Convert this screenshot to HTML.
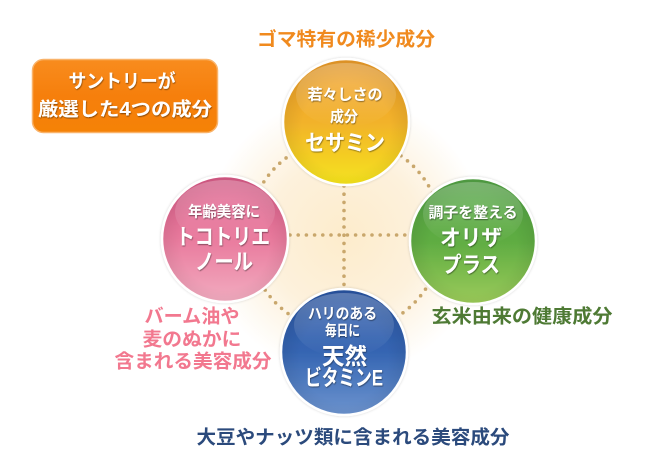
<!DOCTYPE html>
<html><head><meta charset="utf-8"><style>
html,body{margin:0;padding:0;background:#fff;}
svg{display:block;}
text{font-family:"Liberation Sans","Noto Sans CJK JP",sans-serif;font-weight:bold;dominant-baseline:central;text-anchor:middle;}
</style></head><body>
<svg width="656" height="475" viewBox="0 0 656 475" xmlns="http://www.w3.org/2000/svg">
<defs>
<radialGradient id="glow" cx="345" cy="236" r="140" gradientUnits="userSpaceOnUse">
<stop offset="0" stop-color="#fdeccc"/><stop offset="0.55" stop-color="#fdf1dc"/><stop offset="1" stop-color="#ffffff"/>
</radialGradient>
<linearGradient id="gOr" x1="0" y1="0" x2="0" y2="1">
<stop offset="0" stop-color="#f09e2c"/><stop offset="0.5" stop-color="#f2b22a"/><stop offset="1" stop-color="#f5e41e"/>
</linearGradient>
<linearGradient id="gPk" x1="0" y1="0" x2="0" y2="1">
<stop offset="0" stop-color="#de5c8a"/><stop offset="0.5" stop-color="#e97a9d"/><stop offset="1" stop-color="#f2acc0"/>
</linearGradient>
<linearGradient id="gGr" x1="0" y1="0" x2="0" y2="1">
<stop offset="0" stop-color="#54a646"/><stop offset="0.5" stop-color="#5eac42"/><stop offset="1" stop-color="#9ccb5a"/>
</linearGradient>
<linearGradient id="gBl" x1="0" y1="0" x2="0" y2="1">
<stop offset="0" stop-color="#2a56a6"/><stop offset="0.5" stop-color="#3565b2"/><stop offset="1" stop-color="#6d94cf"/>
</linearGradient>
<radialGradient id="shade" cx="0.5" cy="0.55" r="0.55">
<stop offset="0.65" stop-color="#000" stop-opacity="0"/><stop offset="1" stop-color="#000" stop-opacity="0.09"/>
</radialGradient>
<linearGradient id="hl" x1="0" y1="0" x2="0" y2="1">
<stop offset="0" stop-color="#fff" stop-opacity="0.25"/><stop offset="1" stop-color="#fff" stop-opacity="0"/>
</linearGradient>
<linearGradient id="box" x1="0" y1="0" x2="0" y2="1">
<stop offset="0" stop-color="#f88c1e"/><stop offset="0.5" stop-color="#f67f0c"/><stop offset="1" stop-color="#f58206"/>
</linearGradient>
<filter id="ts" x="-10%" y="-30%" width="120%" height="160%">
<feDropShadow dx="0.6" dy="1" stdDeviation="0.6" flood-color="#000" flood-opacity="0.45"/>
</filter>
<filter id="cs" x="-10%" y="-10%" width="120%" height="120%">
<feDropShadow dx="0" dy="0" stdDeviation="1.2" flood-color="#000" flood-opacity="0.18"/>
</filter>
</defs>

<circle cx="345" cy="236" r="140" fill="url(#glow)"/>

<!-- dotted ring -->
<circle cx="345" cy="235" r="97" fill="none" stroke="#c9a76c" stroke-width="3.6" stroke-linecap="round" stroke-dasharray="0 8.2"/>
<!-- cross dotted lines -->
<line x1="290" y1="235" x2="408" y2="235" stroke="#c9a76c" stroke-width="3.6" stroke-linecap="round" stroke-dasharray="0 8.2"/>
<line x1="344" y1="186" x2="344" y2="290" stroke="#c9a76c" stroke-width="3.6" stroke-linecap="round" stroke-dasharray="0 8.2"/>

<!-- orange box -->
<rect x="32.5" y="59.5" width="185" height="73" rx="11" fill="url(#box)" stroke="#f9b36a" stroke-width="1.5"/>
<text x="122" y="82" font-size="19" fill="#fff" textLength="107" lengthAdjust="spacingAndGlyphs" filter="url(#ts)">サントリーが</text>
<text x="125" y="110" font-size="19" fill="#fff" textLength="174" lengthAdjust="spacingAndGlyphs" filter="url(#ts)">厳選した4つの成分</text>

<!-- title -->
<text x="346" y="40" font-size="19" fill="#f08a1e" textLength="178" lengthAdjust="spacingAndGlyphs">ゴマ特有の稀少成分</text>

<!-- circles -->
<g filter="url(#cs)">
<circle cx="346" cy="122" r="63" fill="url(#gOr)" stroke="#fff" stroke-width="2.5"/>
<circle cx="225" cy="239" r="63" fill="url(#gPk)" stroke="#fff" stroke-width="2.5"/>
<circle cx="473" cy="241" r="63" fill="url(#gGr)" stroke="#fff" stroke-width="2.5"/>
<circle cx="344" cy="352" r="63" fill="url(#gBl)" stroke="#fff" stroke-width="2.5"/>
</g>
<circle cx="346" cy="122" r="61.5" fill="url(#shade)"/>
<circle cx="225" cy="239" r="61.5" fill="url(#shade)"/>
<circle cx="473" cy="241" r="61.5" fill="url(#shade)"/>
<circle cx="344" cy="352" r="61.5" fill="url(#shade)"/>
<ellipse cx="346" cy="95" rx="50" ry="32" fill="url(#hl)"/>
<ellipse cx="225" cy="212" rx="50" ry="32" fill="url(#hl)"/>
<ellipse cx="473" cy="214" rx="50" ry="32" fill="url(#hl)"/>
<ellipse cx="344" cy="325" rx="50" ry="32" fill="url(#hl)"/>

<!-- circle texts -->
<g fill="#fff" filter="url(#ts)">
<text x="345" y="95" font-size="15" textLength="75" lengthAdjust="spacingAndGlyphs">若々しさの</text>
<text x="344" y="117" font-size="15" textLength="28" lengthAdjust="spacingAndGlyphs">成分</text>
<text x="345" y="143" font-size="22" textLength="80" lengthAdjust="spacingAndGlyphs">セサミン</text>

<text x="224" y="212" font-size="15" textLength="72" lengthAdjust="spacingAndGlyphs">年齢美容に</text>
<text x="223" y="237" font-size="22" textLength="94" lengthAdjust="spacingAndGlyphs">トコトリエ</text>
<text x="224" y="262" font-size="22" textLength="58" lengthAdjust="spacingAndGlyphs">ノール</text>

<text x="473" y="213" font-size="15" textLength="89" lengthAdjust="spacingAndGlyphs">調子を整える</text>
<text x="471" y="238" font-size="22" textLength="62" lengthAdjust="spacingAndGlyphs">オリザ</text>
<text x="471" y="265" font-size="22" textLength="58" lengthAdjust="spacingAndGlyphs">プラス</text>

<text x="342.5" y="314" font-size="15" textLength="69" lengthAdjust="spacingAndGlyphs">ハリのある</text>
<text x="342.5" y="331" font-size="15" textLength="35" lengthAdjust="spacingAndGlyphs">毎日に</text>
<text x="344.5" y="356" font-size="23" textLength="45" lengthAdjust="spacingAndGlyphs">天然</text>
<text x="344" y="378" font-size="22" textLength="78" lengthAdjust="spacingAndGlyphs">ビタミンE</text>
</g>

<!-- side labels -->
<g fill="#f2788f">
<text x="192" y="317" font-size="19" textLength="95" lengthAdjust="spacingAndGlyphs">バーム油や</text>
<text x="192" y="340" font-size="19" textLength="99" lengthAdjust="spacingAndGlyphs">麦のぬかに</text>
<text x="193" y="362" font-size="19" textLength="157" lengthAdjust="spacingAndGlyphs">含まれる美容成分</text>
</g>
<text x="522" y="317" font-size="19" fill="#4e7a34" textLength="181" lengthAdjust="spacingAndGlyphs">玄米由来の健康成分</text>
<text x="353" y="438" font-size="19" fill="#2b4a7c" textLength="313" lengthAdjust="spacingAndGlyphs">大豆やナッツ類に含まれる美容成分</text>
</svg>
</body></html>
